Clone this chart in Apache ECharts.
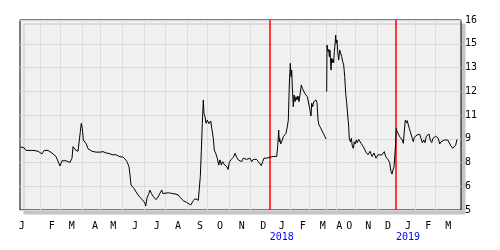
<!DOCTYPE html>
<html>
<head>
<meta charset="utf-8">
<script src="https://cdn.jsdelivr.net/npm/echarts@6/dist/echarts.min.js"></script>
<style>html,body{margin:0;padding:0;background:#fff}#c{width:500px;height:250px}</style>
</head>
<body>
<div id="c"></div>
<script>
// trading-day index (0 = first day shown) and closing price
var tradingDay = [0.5,2,4,6,8,10,12,14,16,18,20,22,24,26,28,30,32,34,36,38,40,42,44,46,48,50,52,53,55,57,58,60.3,61.3,62.3,63.3,65,66,68,70,72,74,76,78,80,83,86,89,92,94,96,98,100,103,105,107,109,110,111,112,114,115,116,118,119,121,123,125,125.7,127,128.5,130,131.5,133,135,136,138,140,141.7,143,145,148.3,151.7,155,158.3,160,161.7,163.3,165,166.7,168.3,170.7,172.3,173.3,175,176.7,178.3,179.3,180.3,181.3,182.3,183.3,184,185,186,187.3,189,190.7,192,193.3,194.3,195.7,197.3,198.7,200,201.3,202.7,204,205.3,206.7,208,209.3,210.7,212,213.3,215,216.7,218.3,220,221.7,223.3,225,226.7,228.3,230,231.7,233.3,235,236.7,238.3,240,241.3,242.7,244,245.3,246.7,248.3,250,251.7,253.3,255,256.7,257.7,258.7,259.3,259.7,260.7,262,263.3,264.7,266,267.3,268.3,269.3,270.3,271,271.7,272.3,273.3,274,275,276,277,278,279,280,281.3,282.3,283.3,284.7,286,287.3,288.7,290,291,291.7,292.7,293.7,295,296,297,298,299,300.3,301.7,303.3,305,306,
306.3,
306.7,307,308,308.7,309.3,310,311,311.7,312.3,313,313.7,314.3,315,315.7,316.3,317,317.7,318.7,319.7,320.7,321.7,322.7,323.7,324.7,325.7,326.7,327.7,328.7,329.3,330.3,331.3,332.3,333.3,334.3,335.3,336.3,337.3,338.7,340,341,342,343.3,345,346,348,350,352,354,356,358,360,361.7,363.3,364.3,365.7,367,368.3,369.7,371,372,373,374,375.7,376.3,377.3,378.3,379.7,381,382.3,383.3,384.3,385.3,386,386.7,387.3,388.3,389.3,390.3,391.3,392.3,393.3,394.3,395.7,397,398.3,399.7,401,402.3,403.7,405,406.3,407.7,409,410.3,411.7,413,414.3,415.7,417,418.3,419.7,421,422.7,424.3,426,427.7,429.3,431,432.7,434.3,435.7,437];
var price = [8.65,8.57,8.6,8.45,8.5,8.45,8.5,8.45,8.5,8.4,8.5,8.25,8.45,8.35,8.45,8.4,8.3,8.35,8.1,8.0,7.55,7.85,7.95,7.85,7.8,7.75,8.0,8.67,8.5,8.55,8.4,9.53,10.02,9.73,9.05,9.1,8.86,8.55,8.47,8.4,8.45,8.35,8.4,8.35,8.38,8.3,8.28,8.2,8.15,8.2,8.1,8.08,8.07,7.95,7.8,7.5,7.03,6.45,6.4,6.25,6.35,6.05,5.96,5.8,5.68,5.6,5.4,5.23,5.7,5.9,6.15,5.95,5.8,5.75,5.6,5.75,5.85,6.16,5.95,6.06,6.0,5.96,5.93,5.87,5.73,5.75,5.54,5.5,5.44,5.37,5.29,5.23,5.54,5.66,5.6,5.56,5.66,6.93,8.38,10.02,11.37,10.6,10.4,10.02,10.2,10.0,10.15,10.05,9.15,8.47,8.28,8.0,7.6,7.9,7.6,7.8,7.65,7.7,7.51,7.35,7.75,7.9,7.8,8.05,8.28,8.05,7.9,7.93,7.8,8.0,8.1,7.93,7.85,8.0,7.8,7.93,7.85,7.93,7.8,7.7,7.57,7.8,8.0,7.9,8.0,7.9,8.05,8.0,8.1,8.03,8.1,8.67,9.63,8.95,9.15,8.82,9.0,9.24,9.34,9.44,9.82,10.2,12.24,13.49,12.72,13.1,12.14,10.98,11.66,11.27,11.56,11.37,11.6,11.27,11.66,12.24,12.05,11.95,11.76,11.85,11.56,11.47,10.79,10.44,11.18,10.98,11.27,11.18,11.37,11.21,10.21,9.92,9.79,9.63,9.44,9.24,9.11,
null,
11.85,14.55,14.17,14.3,13.88,14.26,13.1,13.78,13.53,13.72,13.53,14.17,14.55,15.13,14.65,14.84,14.17,13.68,14.26,14.07,13.88,13.59,13.4,12.72,11.76,11.18,10.5,9.82,9.15,8.95,9.15,8.7,8.57,8.95,8.82,9.05,8.9,9.09,9.15,8.86,8.9,8.67,8.47,8.35,8.2,8.4,8.1,8.3,8.0,8.2,8.24,8.18,8.28,8.38,8.09,8.18,7.9,7.74,7.22,7.08,7.32,7.51,8.86,9.73,9.53,9.44,9.24,9.15,9.05,8.86,9.53,10.21,10.31,10.05,10.17,9.92,9.73,9.53,9.44,9.15,8.95,9.21,9.1,9.34,9.27,9.39,9.15,8.9,9.05,8.9,9.27,9.18,9.4,9.05,8.9,9.15,9.05,9.27,9.34,9.15,8.82,8.95,9.05,9.05,8.95,9.05,8.95,8.7,8.57,8.6,8.76,9.09];

// month boundaries (trading-day index) and year boundaries
var monthStarts = [20.5,40.5,62.5,80.5,102.5,124.5,145.5,167.5,187.5,209.5,230.5,270.5,289.5,306.5,316.5,335.5,357.5,395.5,415.5];
var yearStarts = [249.5,375.5];
// month letters and where they are printed
var monthLabels = ['J','F','M','A','M','J','J','A','S','O','N','D','J','F','M','A','O','N','D','J','F','M'];
var monthLabelDays = [1.7,31.7,51.7,75,93.3,115,136.7,158,180,200,221.7,243.3,261.7,282.7,302.7,319.3,329.3,348.3,368,388,408.3,428.3];
var yearLabels = {261.7:'2018', 388:'2019'};
// right axis tick labels (equally spaced from 5 to 16)
var yTickLabels = ['5','6','8','9','11','12','13','15','16'];
var yMin = 5, yMax = 16;

var nSteps = yTickLabels.length - 1;
var step = (yMax - yMin) / nSteps;
function toLevel(v){ return (v - yMin) / step; }

var seriesData = tradingDay.map(function(d,i){
  return [d, price[i] == null ? '-' : toLevel(price[i])];
});

var FONT = 'DejaVu Sans Mono';
var chart = echarts.init(document.getElementById('c'), null, {renderer:'canvas'});
chart.setOption({
  animation: false,
  grid: {
    left: 20, right: 39, top: 20, bottom: 40,
    show: true, backgroundColor: '#f0f0f0', borderColor: '#000', borderWidth: 1,
    shadowColor: '#c4c4c4', shadowBlur: 0, shadowOffsetX: 4, shadowOffsetY: 4
  },
  xAxis: {
    type: 'value', min: 0, max: 441,
    axisLine: {show:false}, axisTick: {show:false}, splitLine: {show:false},
    axisLabel: {
      customValues: monthLabelDays,
      margin: 11, fontFamily: FONT, fontSize: 10, color: '#000', lineHeight: 11,
      formatter: function(v){
        var i = monthLabelDays.indexOf(v);
        if (i < 0) return '';
        var s = monthLabels[i];
        if (yearLabels[v]) s += '\n{yr|' + yearLabels[v] + '}';
        return s;
      },
      rich: { yr: { color: '#0000ff', fontFamily: FONT, fontSize: 10, lineHeight: 11 } }
    }
  },
  yAxis: {
    type: 'value', position: 'right', min: 0, max: nSteps, interval: 1,
    axisLine: {show:false}, axisTick: {show:false},
    splitLine: {show:true, lineStyle:{color:'#d8d8d8', width:1}},
    axisLabel: {
      margin: 4, fontFamily: FONT, fontSize: 10, color: '#000', padding: [4,0,0,0],
      formatter: function(v){ return yTickLabels[Math.round(v)]; }
    }
  },
  series: [{
    type: 'line', data: [], z: 1, silent: true,
    markLine: {
      silent: true, symbol: 'none', z: 1, animation: false,
      label: {show:false},
      lineStyle: {color:'#dcdcdc', width:1, type:'solid'},
      data: monthStarts.map(function(d){ return {xAxis: d}; })
    }
  }, {
    type: 'line', data: [], z: 2, silent: true,
    markLine: {
      silent: true, symbol: 'none', z: 2, animation: false,
      label: {show:false},
      lineStyle: {color:'#ff0000', width:1.5, type:'solid'},
      data: yearStarts.map(function(d){ return {xAxis: d}; })
    }
  }, {
    type: 'line', data: seriesData, symbol: 'none', connectNulls: false, z: 5,
    color: '#000',
    lineStyle: {color:'#000', width: 1}
  }]
});
</script>
</body>
</html>
